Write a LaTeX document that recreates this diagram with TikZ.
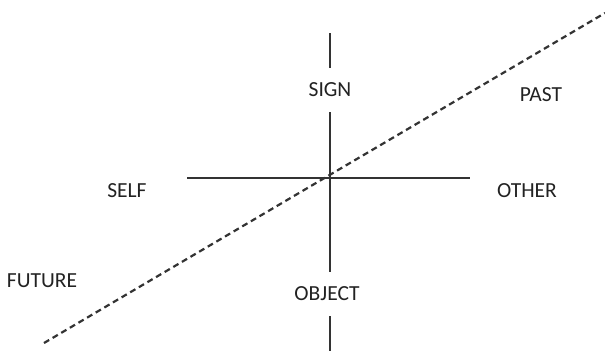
\documentclass[tikz,border=0pt]{standalone}
\usepackage{fontspec}
\setmainfont{Carlito}
\definecolor{ink}{HTML}{222222}
\definecolor{axis}{HTML}{333333}
\begin{document}
\begin{tikzpicture}[x=1pt,y=-1pt,
  lbl/.style={font=\fontsize{21.5}{24}\selectfont, text=ink, inner sep=0pt},
  axlbl/.style={lbl, fill=white, minimum height=44pt, minimum width=60pt},
  axisline/.style={draw=axis, line width=1.8pt},
  timeline/.style={draw=axis, line width=2.2pt, dash pattern=on 6pt off 4pt}]
\useasboundingbox (0,0) rectangle (605,351);
\coordinate (vtop) at (330,33);
\coordinate (vbot) at (330,351);
\coordinate (hl) at (187,178);
\coordinate (hr) at (470,178);
\coordinate (dl) at (44,343);
\coordinate (dr) at (605,13);
\draw[axisline] (vtop) -- (vbot);
\draw[axisline] (hl) -- (hr);
\draw[timeline] (dl) -- (dr);
\node[axlbl] (sign) at (330,90) {SIGN};
\node[axlbl] (object) at (327,294) {OBJECT};
\node[lbl] (past) at (541,95) {PAST};
\node[lbl] (self) at (127,191) {SELF};
\node[lbl] (other) at (527,191) {OTHER};
\node[lbl] (future) at (42,281) {FUTURE};
\end{tikzpicture}
\end{document}
